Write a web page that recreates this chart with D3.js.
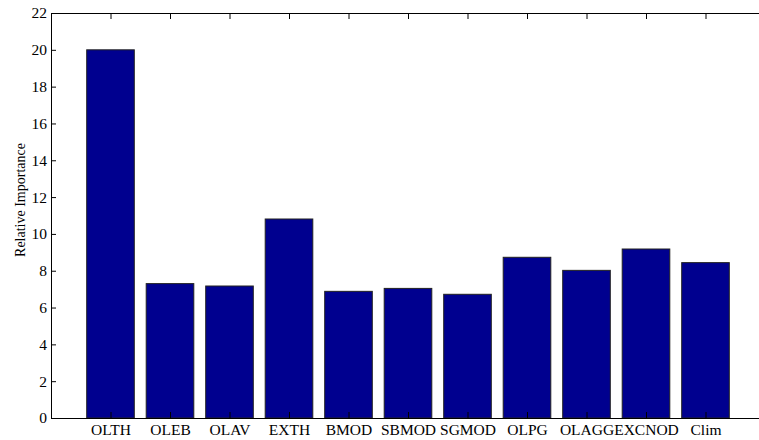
<!DOCTYPE html>
<html>
<head>
<meta charset="utf-8">
<script src="https://cdn.jsdelivr.net/npm/d3@7"></script>
<style>
  body { margin: 0; background: #fff; }
  svg text { font-family: 'Liberation Serif', 'Times New Roman', 'DejaVu Serif', serif !important; fill: #000; }
</style>
</head>
<body>
<div class="bar-chart-container"></div>
<script>
// data
const categories = ['OLTH', 'OLEB', 'OLAV', 'EXTH', 'BMOD', 'SBMOD', 'SGMOD', 'OLPG', 'OLAGG', 'EXCNOD', 'Clim'];
const importance = [20.0, 7.30, 7.17, 10.81, 6.88, 7.04, 6.72, 8.73, 8.02, 9.18, 8.44];
const yTicks = [0, 2, 4, 6, 8, 10, 12, 14, 16, 18, 20, 22];

const svg_width = 759;
const svg_height = 440;
const margin = {top: 13, right: -6, bottom: 22, left: 51};
const chart_width = svg_width - margin.left - margin.right;
const chart_height = svg_height - margin.top - margin.bottom;

const svg = d3.select('.bar-chart-container').append('svg')
    .attr('width', svg_width).attr('height', svg_height);
const g = svg.append('g').attr('transform', `translate(${margin.left},${margin.top})`);

// matlab style: bars at 1..n, xlim [0, n+1]
const xScale = d3.scaleLinear().domain([0, categories.length + 1]).range([0, chart_width]);
const yScale = d3.scaleLinear().domain([0, 22]).range([chart_height, 0]);
const step = xScale(1) - xScale(0);
const barW = step * 0.8;

g.selectAll('.bar').data(importance).enter()
    .append('rect').attr('class', 'bar')
    .attr('x', (d, i) => xScale(i + 1) - barW / 2)
    .attr('y', d => yScale(d))
    .attr('width', barW)
    .attr('height', d => yScale(0) - yScale(d))
    .style('fill', '#00008f')
    .style('stroke', '#222')
    .style('stroke-width', 1);

// axes, ticks pointing inward
const idx = categories.map((d, i) => i + 1);
const xBottom = d3.axisBottom(xScale).tickValues(idx)
    .tickFormat(d => categories[d - 1]).tickSizeInner(-6).tickSizeOuter(0).tickPadding(6);
const xTop = d3.axisTop(xScale).tickValues(idx).tickFormat('').tickSizeInner(-6).tickSizeOuter(0);
const yLeft = d3.axisLeft(yScale).tickValues(yTicks).tickSizeInner(-5).tickSizeOuter(0).tickPadding(4);
const yRight = d3.axisRight(yScale).tickValues(yTicks).tickFormat('').tickSizeInner(-5).tickSizeOuter(0);

const drawAxis = (axis, tx, ty) => {
    const a = g.append('g').attr('transform', `translate(${tx},${ty})`).call(axis)
        .attr('font-family', null).attr('font-size', null);
    a.select('.domain').attr('stroke', '#000');
    a.selectAll('line').attr('stroke', '#000');
    a.selectAll('text').style('font-size', '15.5px');
    return a;
};
drawAxis(xTop, 0, 0);
drawAxis(yRight, chart_width, 0);
drawAxis(yLeft, 0, 0);
drawAxis(xBottom, 0, chart_height);

// y label
svg.append('text')
    .attr('transform', `translate(25,200) rotate(-90)`)
    .attr('text-anchor', 'middle')
    .style('font-size', '14px')
    .text('Relative Importance');
</script>
</body>
</html>
